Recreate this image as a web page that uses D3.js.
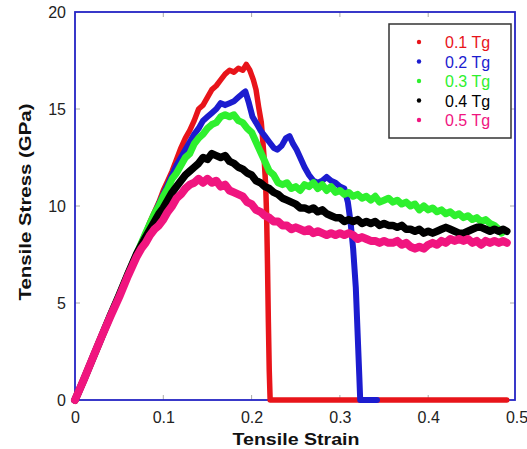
<!DOCTYPE html>
<html><head><meta charset="utf-8">
<script src="https://cdn.jsdelivr.net/npm/d3@7"></script>
<style>body{margin:0;background:#fff}svg{display:block}</style>
</head><body><svg id="c" width="527" height="449"></svg>
<script>
const seriesNames = ["0.1 Tg","0.2 Tg","0.3 Tg","0.4 Tg","0.5 Tg"];
const seriesColors = ["#e8141a","#1c1ccf","#2ef02e","#000000","#f0157f"];
const xTicks = [0,0.1,0.2,0.3,0.4,0.5];
const yTicks = [0,5,10,15,20];
const elastic = [[0,0],[0.01,1.05],[0.02,2.15],[0.03,3.25],[0.04,4.35],[0.05,5.4],[0.06,6.5],[0.07,7.55]];
const red = elastic.concat([[0.08,8.6],[0.085,9.2],[0.09,9.7],[0.095,10.2],[0.10,10.8],[0.105,11.3],[0.11,11.8],[0.115,12.4],[0.12,13.0],[0.125,13.5],[0.13,13.9],[0.135,14.4],[0.14,15.0],[0.145,15.2],[0.15,15.6],[0.155,16.0],[0.16,16.2],[0.165,16.5],[0.17,16.8],[0.175,17.0],[0.18,16.9],[0.185,17.1],[0.19,17.0],[0.194,17.3],[0.198,17.0],[0.202,16.5],[0.205,16.0],[0.208,15.1],[0.211,14.3],[0.214,12.6],[0.216,11.0],[0.217,9.5],[0.218,7.0],[0.219,4.0],[0.220,1.5],[0.221,0],[0.30,0],[0.40,0],[0.489,0]]);
const blue = elastic.concat([[0.08,8.6],[0.085,9.1],[0.09,9.6],[0.095,10.1],[0.10,10.6],[0.105,11.1],[0.11,11.6],[0.115,12.1],[0.12,12.5],[0.125,12.9],[0.13,13.3],[0.135,13.7],[0.14,14.0],[0.145,14.4],[0.15,14.6],[0.155,14.8],[0.16,15.0],[0.165,15.3],[0.17,15.2],[0.175,15.3],[0.18,15.4],[0.185,15.6],[0.19,15.8],[0.193,15.9],[0.197,15.3],[0.201,14.6],[0.205,14.3],[0.21,13.9],[0.215,13.6],[0.22,13.3],[0.225,13.0],[0.229,12.9],[0.234,13.1],[0.239,13.5],[0.243,13.6],[0.247,13.2],[0.251,12.9],[0.255,12.5],[0.26,12.0],[0.265,11.6],[0.27,11.3],[0.275,11.2],[0.28,11.3],[0.285,11.5],[0.29,11.3],[0.295,11.2],[0.30,11.0],[0.305,10.9],[0.309,10.2],[0.312,9.2],[0.315,7.8],[0.318,5.8],[0.320,3.5],[0.322,1.2],[0.323,0],[0.342,0]]);
const green = elastic.concat([[0.08,8.6],[0.085,9.1],[0.09,9.6],[0.095,10.0],[0.100,10.5],[0.105,10.9],[0.110,11.4],[0.115,11.7],[0.120,12.1],[0.125,12.5],[0.130,12.7],[0.135,13.2],[0.140,13.5],[0.145,13.7],[0.150,14.0],[0.155,14.2],[0.160,14.3],[0.165,14.6],[0.170,14.7],[0.175,14.6],[0.180,14.7],[0.185,14.4],[0.190,14.3],[0.195,14.0],[0.200,13.8],[0.205,13.3],[0.210,12.8],[0.215,12.3],[0.220,11.8],[0.225,11.6],[0.230,11.2],[0.235,11.1],[0.240,11.2],[0.245,10.9],[0.250,11.0],[0.255,10.8],[0.260,11.1],[0.265,11.0],[0.270,11.2],[0.275,10.9],[0.280,11.1],[0.285,10.8],[0.290,11.0],[0.295,10.7],[0.300,10.8],[0.305,10.6],[0.310,10.7],[0.315,10.5],[0.320,10.6],[0.325,10.4],[0.330,10.5],[0.335,10.3],[0.340,10.5],[0.345,10.2],[0.350,10.3],[0.355,10.4],[0.360,10.2],[0.365,10.3],[0.370,10.1],[0.375,10.2],[0.380,10.0],[0.385,10.1],[0.390,9.8],[0.395,10.0],[0.400,9.8],[0.405,9.9],[0.410,9.7],[0.415,9.8],[0.420,9.6],[0.425,9.7],[0.430,9.5],[0.435,9.6],[0.440,9.4],[0.445,9.5],[0.450,9.3],[0.455,9.4],[0.460,9.2],[0.465,9.3],[0.470,9.1],[0.475,9.0],[0.480,8.8],[0.483,8.6]]);
const black = elastic.concat([[0.08,8.4],[0.085,8.8],[0.09,9.2],[0.095,9.6],[0.100,9.9],[0.105,10.3],[0.110,10.7],[0.115,11.0],[0.120,11.3],[0.125,11.6],[0.130,11.8],[0.135,12.0],[0.140,12.2],[0.145,12.5],[0.150,12.4],[0.155,12.7],[0.160,12.6],[0.165,12.5],[0.170,12.6],[0.175,12.3],[0.180,12.2],[0.185,12.0],[0.190,11.9],[0.195,11.7],[0.200,11.6],[0.205,11.3],[0.210,11.2],[0.215,11.0],[0.220,10.9],[0.225,10.7],[0.230,10.6],[0.235,10.4],[0.240,10.3],[0.245,10.2],[0.250,10.1],[0.255,9.9],[0.260,9.9],[0.265,9.8],[0.270,9.9],[0.275,9.7],[0.280,9.8],[0.285,9.6],[0.290,9.5],[0.295,9.4],[0.300,9.4],[0.305,9.2],[0.310,9.3],[0.315,9.2],[0.320,9.3],[0.325,9.1],[0.330,9.2],[0.335,9.1],[0.340,9.2],[0.345,9.0],[0.350,9.1],[0.355,9.0],[0.360,9.0],[0.365,8.9],[0.370,9.0],[0.375,8.8],[0.380,8.8],[0.385,8.7],[0.390,8.8],[0.395,8.6],[0.400,8.7],[0.405,8.6],[0.410,8.7],[0.415,8.8],[0.420,8.9],[0.425,8.8],[0.430,8.7],[0.435,8.6],[0.440,8.6],[0.445,8.7],[0.450,8.8],[0.455,8.9],[0.460,8.9],[0.465,8.8],[0.470,8.7],[0.475,8.8],[0.480,8.7],[0.485,8.8],[0.489,8.7]]);
const pink = [[0,0],[0.01,1.05],[0.02,2.15],[0.03,3.25],[0.04,4.3],[0.05,5.3],[0.06,6.4],[0.065,6.9],[0.07,7.4],[0.075,7.8],[0.08,8.1],[0.085,8.5],[0.09,8.8],[0.095,9.0],[0.100,9.3],[0.105,9.7],[0.110,10.0],[0.115,10.4],[0.120,10.6],[0.125,10.9],[0.130,11.1],[0.135,11.2],[0.140,11.4],[0.145,11.2],[0.150,11.4],[0.155,11.2],[0.160,11.3],[0.165,11.0],[0.170,11.1],[0.175,10.8],[0.180,10.7],[0.185,10.6],[0.190,10.5],[0.195,10.2],[0.200,10.1],[0.205,9.8],[0.210,9.7],[0.215,9.5],[0.220,9.4],[0.225,9.2],[0.230,9.2],[0.235,9.0],[0.240,9.0],[0.245,8.8],[0.250,8.9],[0.255,8.8],[0.260,8.7],[0.265,8.8],[0.270,8.6],[0.275,8.7],[0.280,8.6],[0.285,8.5],[0.290,8.6],[0.295,8.5],[0.300,8.6],[0.305,8.5],[0.310,8.6],[0.315,8.5],[0.320,8.3],[0.325,8.4],[0.330,8.3],[0.335,8.2],[0.340,8.2],[0.345,8.1],[0.350,8.2],[0.355,8.1],[0.360,8.1],[0.365,8.2],[0.370,8.0],[0.375,8.1],[0.380,7.9],[0.385,7.8],[0.390,7.9],[0.395,7.8],[0.400,8.0],[0.405,8.1],[0.410,8.0],[0.415,8.2],[0.420,8.1],[0.425,8.3],[0.430,8.2],[0.435,8.3],[0.440,8.2],[0.445,8.3],[0.450,8.1],[0.455,8.2],[0.460,8.0],[0.465,8.2],[0.470,8.1],[0.475,8.2],[0.480,8.1],[0.485,8.2],[0.489,8.1]];
const seriesData = [red, blue, green, black, pink];
const seriesWidths = [5.5, 6, 7, 7.5, 8];

const svg = d3.select("#c");
const L = 75, R = 515, T = 12, B = 400;
const x = d3.scaleLinear().domain([0,0.5]).range([L, 516.5]);
const y = d3.scaleLinear().domain([0,20]).range([B, T]);

// inner ticks
const tickG = svg.append("g").attr("stroke","#aaa").attr("stroke-width",1);
xTicks.filter(v=>v>0&&v<0.5).forEach(v=>{
  tickG.append("line").attr("x1",x(v)).attr("x2",x(v)).attr("y1",B).attr("y2",B-5);
  tickG.append("line").attr("x1",x(v)).attr("x2",x(v)).attr("y1",T).attr("y2",T+5);
});
yTicks.filter(v=>v>0&&v<20).forEach(v=>{
  tickG.append("line").attr("x1",L).attr("x2",L+5).attr("y1",y(v)).attr("y2",y(v));
  tickG.append("line").attr("x1",R).attr("x2",R-5).attr("y1",y(v)).attr("y2",y(v));
});

// axes labels via d3 axis
const ax = svg.append("g").attr("transform",`translate(0,${B})`)
  .call(d3.axisBottom(x).tickValues(xTicks).tickSize(0).tickPadding(12).tickFormat(d=>d===0?"0":d3.format(".1f")(d)));
const ay = svg.append("g").attr("transform",`translate(${L},0)`)
  .call(d3.axisLeft(y).tickValues(yTicks).tickSize(0).tickPadding(9));
[ax,ay].forEach(g=>{g.select(".domain").remove();
  g.selectAll("text").attr("font-family","Liberation Sans, Arial, sans-serif").attr("font-size",16).attr("fill","#222");});

// frame
svg.append("rect").attr("x",L).attr("y",T).attr("width",R-L).attr("height",B-T)
  .attr("fill","none").attr("stroke","#2424c4").attr("stroke-width",1.8);

// lines
const line = d3.line().x(d=>x(d[0])).y(d=>y(d[1]));
const plot = svg.append("g");
seriesData.forEach((s,i)=>{
  plot.append("path").datum(s).attr("d",line).attr("fill","none")
    .attr("stroke",seriesColors[i]).attr("stroke-width", seriesWidths[i])
    .attr("stroke-linejoin","round").attr("stroke-linecap","round");
});

// legend
const lg = svg.append("g");
lg.append("rect").attr("x",389).attr("y",24).attr("width",122).attr("height",114)
  .attr("fill","#fff").attr("stroke","#333").attr("stroke-width",1.5);
seriesNames.forEach((n,i)=>{
  const cy = 42 + i*19.5;
  lg.append("circle").attr("cx",419).attr("cy",cy).attr("r",2.2).attr("fill",seriesColors[i]);
  lg.append("text").attr("x",445).attr("y",cy+6).text(n)
    .attr("font-family","Liberation Sans, Arial, sans-serif").attr("font-size",16).attr("fill",seriesColors[i]);
});

// titles
svg.append("text").attr("x",296).attr("y",445).attr("text-anchor","middle")
  .attr("font-family","Liberation Sans, Arial, sans-serif").attr("font-weight","bold").attr("font-size",17)
  .attr("textLength",127).attr("lengthAdjust","spacingAndGlyphs").attr("fill","#111").text("Tensile Strain");
svg.append("text").attr("transform","translate(31,202) rotate(-90)").attr("text-anchor","middle")
  .attr("font-family","Liberation Sans, Arial, sans-serif").attr("font-weight","bold").attr("font-size",17)
  .attr("textLength",197).attr("lengthAdjust","spacingAndGlyphs").attr("fill","#111").text("Tensile Stress (GPa)");
</script></body></html>
